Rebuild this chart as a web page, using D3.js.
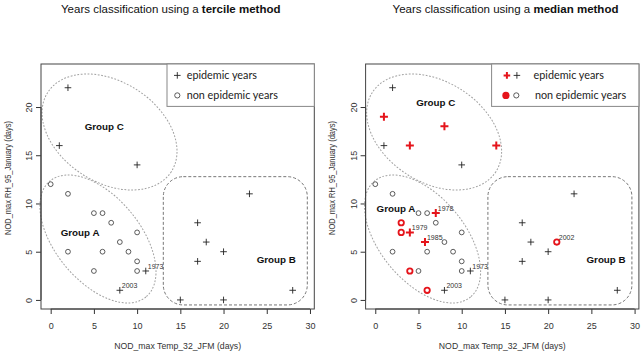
<!DOCTYPE html>
<html>
<head>
<meta charset="utf-8">
<title>Years classification</title>
<style>
	body { margin: 0; background: #fff; }
	svg { display: block; font-family: 'Liberation Sans', Arial, sans-serif; }
	.axis path, .axis line { stroke: #333; }
	.axis text { fill: #333; font-size: 9px; font-family: 'Liberation Sans', Arial, sans-serif; }
	.frame { fill: none; stroke: #444; }
	.ell { fill: none; stroke: #a0a0a0; stroke-dasharray: 1.8,1.6; }
	.rbox { fill: none; stroke: #777; stroke-dasharray: 3,2; }
	.plus { stroke: #222; stroke-width: 0.9; }
	.ring { fill: none; stroke: #333; stroke-width: 0.8; }
	.rplus { stroke: #e5141b; stroke-width: 2; }
	.rring { fill: none; stroke: #e5141b; stroke-width: 1.8; }
	.legend rect { fill: #fff; stroke: #888; }
	.legend text { font-family: Lato, sans-serif; font-size: 10.8px; fill: #222; }
	.grp { font-weight: bold; font-size: 9.8px; fill: #111; }
	.yr { font-size: 7px; fill: #333; }
	.atitle { font-size: 8.7px; fill: #333; }
	.title { font-size: 11.5px; fill: #111; }
</style>
</head>
<body>
<script src="https://d3js.org/d3.v7.min.js"></script>
<script>
	'use strict';

	const xTicks = [0, 5, 10, 15, 20, 25, 30];
	const yTicks = [0, 5, 10, 15, 20];

	// epidemic / non epidemic years (tercile method), x = Temp_32_JFM, y = RH_95_January
	const epiX = [2, 1, 10, 23, 17, 18, 20, 17, 15, 20, 28, 11, 8];
	const epiY = [22, 16, 14, 11, 8, 6, 5, 4, 0, 0, 1, 3, 1];
	const nonX = [0, 2, 5, 6, 7, 10, 8, 2, 6, 9, 10, 5, 10];
	const nonY = [12, 11, 9, 9, 8, 7, 6, 5, 5, 5, 4, 3, 3];

	// years added by the median method (red)
	const medEpiX = [1, 4, 8, 14, 7, 4, 5.75];
	const medEpiY = [19, 16, 18, 16, 9, 7, 6];
	const medNonX = [3, 3, 4, 6, 21];
	const medNonY = [8, 7, 3, 1, 6];

	// labelled years
	const tercYears = ['1973', '2003'];
	const tercYearX = [11, 8];
	const tercYearY = [3, 1];
	const medYears = ['1978', '1979', '1985', '1973', '2003', '2002'];
	const medYearX = [7, 4, 5.75, 11, 8, 21];
	const medYearY = [9, 7, 6, 3, 1, 6];

	const groups = ['Group A', 'Group B', 'Group C'];

	const W = 644, H = 355;
	const svg = d3.select('body').append('svg')
		.attr('width', W)
		.attr('height', H);

	const zip = (xs, ys) => xs.map((v, i) => [v, ys[i]]);

	function panel(cfg) {
		const x = d3.scaleLinear().domain([-1.12, 30.5]).range([cfg.left, cfg.left + 273.3]);
		const y = d3.scaleLinear().domain([-0.94, 24.46]).range([309, 64]);
		const g = svg.append('g');

		// title
		const t = g.append('text')
			.attr('class', 'title')
			.attr('x', cfg.titleX)
			.attr('y', 12.5);
		t.append('tspan').text('Years classification using a ');
		t.append('tspan').attr('font-weight', 'bold').text(cfg.method);

		// group shapes
		g.append('ellipse').attr('class', 'ell')
			.attr('rx', 73.4).attr('ry', 50.3)
			.attr('transform', 'translate(' + x(6.81) + ',' + y(17.41) + ') rotate(32.7)');
		g.append('ellipse').attr('class', 'ell')
			.attr('rx', 75.3).attr('ry', 42.4)
			.attr('transform', 'translate(' + x(5.47) + ',' + y(6.32) + ') rotate(50.4)');
		g.append('rect').attr('class', 'rbox')
			.attr('x', x(13.03)).attr('y', y(12.78))
			.attr('width', x(29.69) - x(13.03))
			.attr('height', y(-0.52) - y(12.78))
			.attr('rx', 20).attr('ry', 20);

		// axes
		const xa = g.append('g')
			.attr('class', 'axis')
			.attr('transform', 'translate(0,' + y.range()[0] + ')')
			.call(d3.axisBottom(x).tickValues(xTicks).tickSize(5).tickPadding(9).tickSizeOuter(0));
		xa.select('.domain').attr('d', 'M' + x(0) + ',0H' + x(30));

		const ya = g.append('g')
			.attr('class', 'axis')
			.attr('transform', 'translate(' + cfg.left + ',0)')
			.call(d3.axisLeft(y).tickValues(yTicks).tickSize(5).tickSizeOuter(0));
		ya.select('.domain').attr('d', 'M0,' + y(0) + 'V' + y(20));
		ya.selectAll('.tick text')
			.attr('x', null).attr('dy', null)
			.attr('text-anchor', 'middle')
			.attr('transform', 'translate(-9,0) rotate(-90)');

		g.append('rect').attr('class', 'frame')
			.attr('x', x.range()[0]).attr('y', y.range()[1])
			.attr('width', x.range()[1] - x.range()[0])
			.attr('height', y.range()[0] - y.range()[1]);

		// axis titles
		g.append('text').attr('class', 'atitle')
			.attr('text-anchor', 'middle')
			.attr('x', (x.range()[0] + x.range()[1]) / 2)
			.attr('y', 349)
			.text('NOD_max Temp_32_JFM (days)');
		g.append('text').attr('class', 'atitle')
			.attr('text-anchor', 'middle')
			.attr('transform', 'translate(' + (cfg.left - 30.5) + ',' + 178 + ') scale(1,0.86) rotate(-90)')
			.text('NOD_max RH_95_January (days)');

		// points
		const plus = s => 'M' + (-s) + ',0H' + s + 'M0,' + (-s) + 'V' + s;
		g.selectAll('.ring').data(zip(nonX, nonY)).join('circle')
			.attr('class', 'ring')
			.attr('cx', d => x(d[0])).attr('cy', d => y(d[1])).attr('r', 2.4);
		g.selectAll('.plus').data(zip(epiX, epiY)).join('path')
			.attr('class', 'plus')
			.attr('d', plus(3.3))
			.attr('transform', d => 'translate(' + x(d[0]) + ',' + y(d[1]) + ')');

		if (cfg.median) {
			g.selectAll('.rring').data(zip(medNonX, medNonY)).join('circle')
				.attr('class', 'rring')
				.attr('cx', d => x(d[0])).attr('cy', d => y(d[1])).attr('r', 2.7);
			g.selectAll('.rplus').data(zip(medEpiX, medEpiY)).join('path')
				.attr('class', 'rplus')
				.attr('d', plus(4))
				.attr('transform', d => 'translate(' + x(d[0]) + ',' + y(d[1]) + ')');
		}

		// year labels
		g.selectAll('.yr').data(cfg.years).join('text')
			.attr('class', 'yr')
			.attr('x', (d, i) => x(cfg.yearX[i]) + 2)
			.attr('y', (d, i) => y(cfg.yearY[i]) - 2.2)
			.text(d => d);

		// group labels
		g.selectAll('.grp').data(groups).join('text')
			.attr('class', 'grp')
			.attr('text-anchor', 'middle')
			.attr('x', (d, i) => x(cfg.grpX[i]))
			.attr('y', (d, i) => y(cfg.grpY[i]) + 3.5)
			.text(d => d);

		// legend
		const lx = x.range()[1] - 147.3, ly = y.range()[1];
		const lg = g.append('g').attr('class', 'legend');
		lg.append('rect').attr('x', lx).attr('y', ly).attr('width', 147.3).attr('height', 42.4);
		if (cfg.median) {
			lg.append('path').attr('class', 'rplus').attr('d', plus(3.3))
				.attr('transform', 'translate(' + (lx + 15.3) + ',' + (ly + 11.4) + ')');
			lg.append('path').attr('class', 'plus').attr('d', plus(3.3))
				.attr('transform', 'translate(' + (lx + 25.3) + ',' + (ly + 11.4) + ')');
			lg.append('circle').attr('cx', lx + 14.3).attr('cy', ly + 31.4).attr('r', 3.6).attr('fill', '#e5141b');
			lg.append('circle').attr('class', 'ring').attr('cx', lx + 24.7).attr('cy', ly + 31.4).attr('r', 2.6);
		} else {
			lg.append('path').attr('class', 'plus').attr('d', plus(3.3))
				.attr('transform', 'translate(' + (lx + 10.3) + ',' + (ly + 11.4) + ')');
			lg.append('circle').attr('class', 'ring').attr('cx', lx + 10.3).attr('cy', ly + 31.4).attr('r', 2.6);
		}
		lg.append('text').attr('x', lx + cfg.legText).attr('y', ly + 15.2).text('epidemic years');
		lg.append('text').attr('x', lx + cfg.legText + (cfg.median ? 1.3 : 0)).attr('y', ly + 35.2).text('non epidemic years');
	}

	panel({
		left: 41, titleX: 61, method: 'tercile method', median: false,
		years: tercYears, yearX: tercYearX, yearY: tercYearY,
		grpX: [3.4, 26.1, 6.2], grpY: [7.0, 4.2, 18.0], legText: 19.7
	});
	panel({
		left: 365.6, titleX: 392.6, method: 'median method', median: true,
		years: medYears, yearX: medYearX, yearY: medYearY,
		grpX: [2.4, 26.7, 7.0], grpY: [9.5, 4.2, 20.5], legText: 42
	});
</script>
</body>
</html>
